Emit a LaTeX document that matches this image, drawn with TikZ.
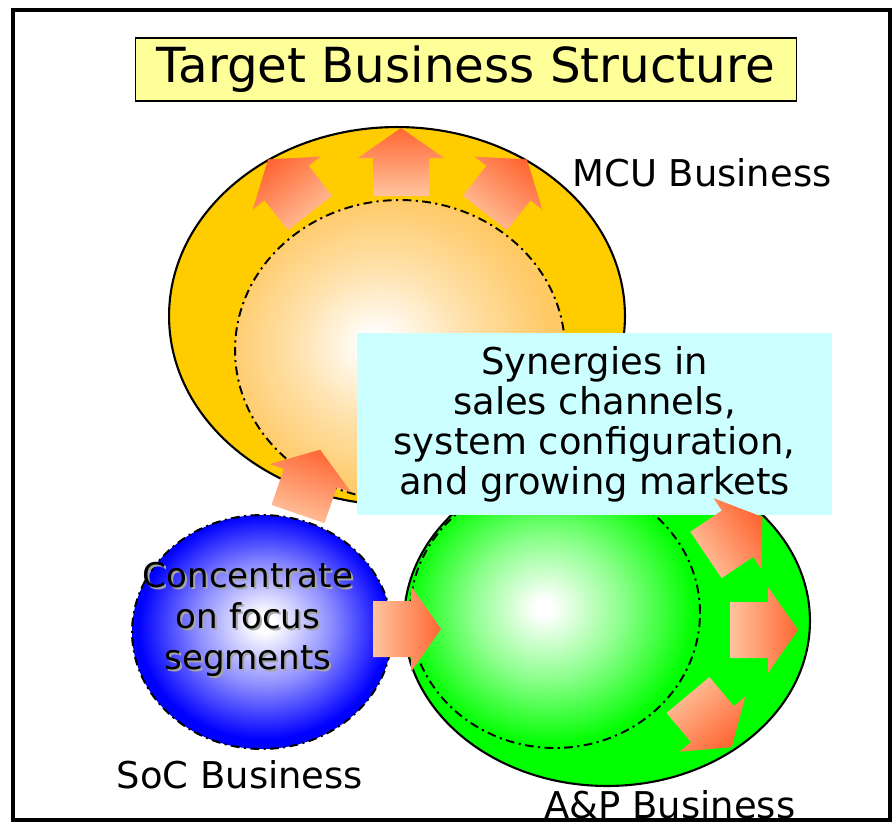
\documentclass[tikz,border=0pt]{standalone}
\usepackage{fontspec}
\setmainfont{DejaVu Sans}
\usetikzlibrary{shapes.geometric}

\definecolor{mcuyellow}{HTML}{FFCC00}
\definecolor{mcuedge}{HTML}{FFC966}
\definecolor{apgreen}{HTML}{00FF00}
\definecolor{socblue}{HTML}{0000FF}
\definecolor{synergycyan}{HTML}{CCFFFF}
\definecolor{titleyellow}{HTML}{FFFF99}
\definecolor{arrowtip}{HTML}{FF6633}
\definecolor{arrowtail}{HTML}{FFC49E}

% node shadings: the node's outline sits at about 25bp
\pgfdeclareradialshading{mcuglow}{\pgfpoint{-4bp}{1bp}}{color(0bp)=(white); color(1.5bp)=(white); color(13bp)=(mcuedge!55!white); color(25bp)=(mcuedge); color(50bp)=(mcuedge)}
\pgfdeclareradialshading{apglow}{\pgfpoint{-2bp}{1bp}}{color(0bp)=(white); color(1.5bp)=(white); color(13bp)=(apgreen!45!white); color(25bp)=(apgreen); color(50bp)=(apgreen)}
\pgfdeclareradialshading{socglow}{\pgfpoint{0.5bp}{2bp}}{color(0bp)=(white); color(2bp)=(white); color(13bp)=(socblue!45!white); color(24bp)=(socblue); color(50bp)=(socblue)}

\begin{document}
\begin{tikzpicture}[x=0.02cm, y=-0.02cm,
    bizlabel/.style={inner sep=0pt, font=\fontsize{21}{22.8}\selectfont, align=center},
    dashdotline/.style={dash pattern=on 5pt off 2.5pt on 1.2pt off 2.5pt, line width=1.1pt},
    growth/.style={top color=arrowtip, bottom color=arrowtail, draw=none}]
        \useasboundingbox (0,0) rectangle (895,825);

        % Define coordinates
        \coordinate (mcu_center) at (397, 316);
        \coordinate (ap_center) at (607, 621);
        \coordinate (soc_center) at (262, 632);

        % Slide frame and title
        \draw[line width=2.3pt] (13, 10) rectangle (890, 820);
        \node[draw, fill=titleyellow, line width=0.6pt, minimum width=13.24cm, minimum height=1.26cm,
              font=\fontsize{27.5}{33}\selectfont] (title) at (466, 69.5) {Target Business Structure};

        % Draw the MCU business (large yellow oval with dash-dot core)
        \node[draw, ellipse, fill=mcuyellow, line width=1.2pt, minimum width=9.12cm, minimum height=7.56cm] (mcu) at (mcu_center) {};
        \node[draw, ellipse, shading=mcuglow, dashdotline, minimum width=6.6cm, minimum height=6.0cm] (mcu_core) at (400, 350) {};

        % Draw the A&P business (green oval with dash-dot core)
        \node[draw, ellipse, fill=apgreen, line width=1.2pt, minimum width=8.12cm, minimum height=6.6cm] (ap) at (ap_center) {};
        \node[draw, ellipse, shading=apglow, dashdotline, minimum width=5.8cm, minimum height=5.4cm] (ap_core) at (555, 613) {};

        % Draw the SoC business (blue oval)
        \node[draw, ellipse, shading=socglow, dashdotline, minimum width=5.2cm, minimum height=4.68cm] (soc) at (soc_center) {};
        \node[bizlabel, font=\fontsize{19.4}{23.3}\selectfont, text=black!35] (soc_shadow) at (250, 621) {Concentrate\\on focus\\segments};
        \node[bizlabel, font=\fontsize{19.4}{23.3}\selectfont] (soc_text) at (248, 619) {Concentrate\\on focus\\segments};

        % Synergy box
        \node[bizlabel, fill=synergycyan, minimum width=9.5cm, minimum height=3.64cm] (synergy) at (594.5, 424)
            {Synergies in\\sales channels,\\system configuration,\\and growing markets};

        % Draw the growth arrows (tail x / tail y / direction)
        \foreach \tx/\ty/\ang in {401/196/90, 310/213/128, 485/213/52, 298/514/71,
                                  373/629/0, 706/555/34, 730/630/0, 688/695/-50}
        {
          \pgfmathsetmacro\shang{\ang-90}
          \shade[growth, shading angle=\shang, shift={(\tx,\ty)}, rotate=\ang]
            (0,-28) -- (38,-28) -- (38,-43) -- (68,0) -- (38,43) -- (38,28) -- (0,28) -- cycle;
        }

        % Business names
        \node[bizlabel] (mcu_name) at (702, 173) {MCU Business};
        \node[bizlabel] (soc_name) at (240, 775) {SoC Business};
        \node[bizlabel] (ap_name) at (670, 805) {A\&P Business};
      \end{tikzpicture}
\end{document}
